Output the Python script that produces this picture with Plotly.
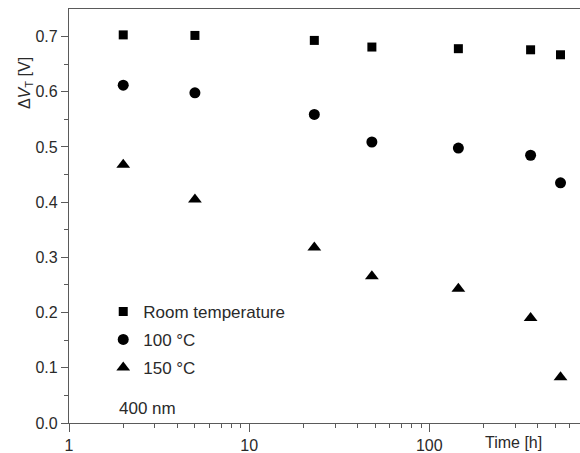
import plotly.graph_objects as go

time_h = [2, 5, 23, 48, 145, 365, 535]
room_temp = [0.703, 0.702, 0.693, 0.681, 0.678, 0.676, 0.667]
temp_100 = [0.612, 0.598, 0.559, 0.509, 0.498, 0.485, 0.435]
temp_150 = [0.468, 0.405, 0.318, 0.266, 0.243, 0.190, 0.083]

series_names = ["Room temperature", "100 °C", "150 °C"]
x_major = [1, 10, 100]
x_minor = [2, 3, 4, 5, 6, 7, 8, 9, 20, 30, 40, 50, 60, 70, 80, 90, 200, 300, 400, 500, 600]

FONT = "Liberation Sans, Arial, sans-serif"
AX = "#5a5a5a"
TXT = "#2a2a2a"

fig = go.Figure()
fig.add_trace(go.Scatter(x=time_h, y=room_temp, mode="markers", name=series_names[0],
                         legendgroup="a",
                         marker=dict(symbol="square", size=9, color="black")))
fig.add_trace(go.Scatter(x=time_h, y=temp_100, mode="markers", name=series_names[1],
                         legendgroup="b",
                         marker=dict(symbol="circle", size=11, color="black")))
fig.add_trace(go.Scatter(x=time_h, y=temp_150, mode="markers", name=series_names[2],
                         legendgroup="c",
                         marker=dict(symbol="triangle-up", size=12, color="black")))

fig.update_layout(
    width=580, height=453,
    margin=dict(l=69, r=0, t=9, b=30),
    paper_bgcolor="white", plot_bgcolor="white",
    font=dict(family=FONT, size=16, color=TXT),
    showlegend=True,
    legend=dict(x=0.067, y=0.312, xanchor="left", yanchor="top",
                bgcolor="rgba(0,0,0,0)", borderwidth=0,
                traceorder="grouped", tracegroupgap=3,
                font=dict(family=FONT, size=17, color=TXT)),
    xaxis=dict(type="log", range=[0, 2.8365],
               showline=True, linecolor=AX, linewidth=1.2, mirror=True,
               showgrid=False, zeroline=False,
               tickmode="array", tickvals=x_major, ticktext=[str(v) for v in x_major],
               ticks="outside", ticklen=8, tickcolor=AX, tickwidth=1,
               minor=dict(tickmode="array", tickvals=x_minor, ticks="outside",
                          ticklen=4, tickcolor=AX, tickwidth=1, showgrid=False),
               tickfont=dict(family=FONT, size=16, color=TXT)),
    yaxis=dict(range=[0, 0.7499],
               showline=True, linecolor=AX, linewidth=1.2,
               showgrid=False, zeroline=False,
               dtick=0.1, tick0=0, tickformat=".1f",
               ticks="outside", ticklen=7, tickcolor=AX, tickwidth=1,
               minor=dict(dtick=0.05, tick0=0, ticks="outside", ticklen=4,
                          tickcolor=AX, tickwidth=1, showgrid=False),
               ticklabelstandoff=0,
               tickfont=dict(family=FONT, size=16, color=TXT)),
)

fig.add_annotation(text="Δ<i>V</i><sub>T</sub> [V]", xref="paper", yref="paper",
                   x=-0.085, y=0.82, xanchor="center", yanchor="middle",
                   textangle=-90, showarrow=False,
                   font=dict(family=FONT, size=16, color=TXT))
fig.add_annotation(text="Time [h]", xref="paper", yref="paper",
                   x=(483 - 69) / 511, y=-0.048, xanchor="left", yanchor="middle",
                   showarrow=False, font=dict(family=FONT, size=16, color=TXT))
fig.add_annotation(text="400 nm", xref="paper", yref="paper",
                   x=(117 - 69) / 511, y=(423 - 408) / 414, xanchor="left", yanchor="middle",
                   showarrow=False, font=dict(family=FONT, size=17, color=TXT))

fig.write_html("out.html", config={"displayModeBar": False},
               post_script="document.body.style.margin='0';")
